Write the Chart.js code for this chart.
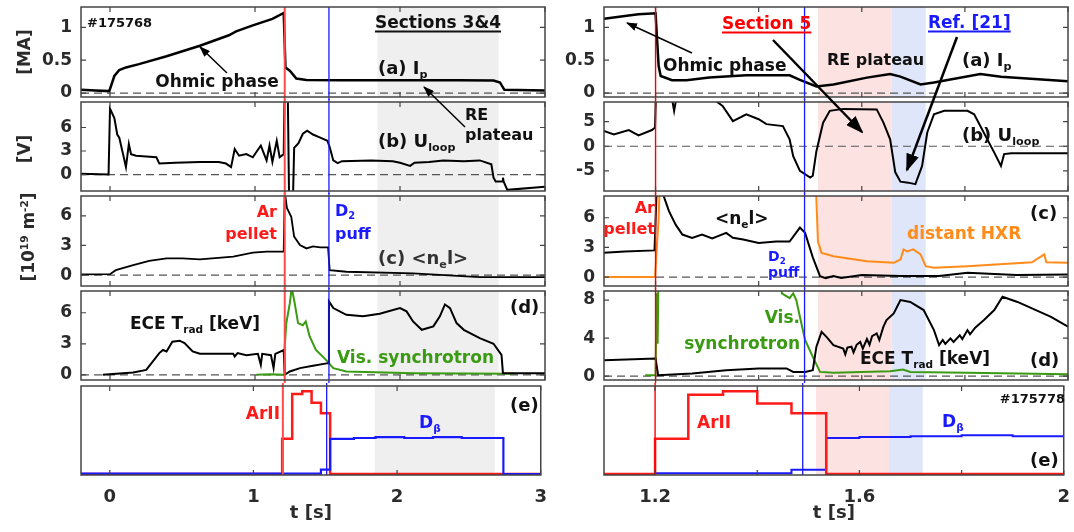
<!DOCTYPE html>
<html>
<head>
<meta charset="utf-8">
<script src="https://cdn.jsdelivr.net/npm/chart.js@4.4.1/dist/chart.umd.min.js"></script>
<style>
  body { margin: 0; width: 1074px; height: 532px; overflow: hidden; position: relative; background: #fff;
         font-family: "DejaVu Sans", sans-serif; font-weight: bold; }
  canvas { position: absolute; z-index: 1; }
  .l, .r, .c { position: absolute; z-index: 2; white-space: nowrap; line-height: 1; font-size: 17px; color: #111; }
  .l { transform: translateY(-50%); }
  .r { transform: translate(-100%, -50%); }
  .c { transform: translate(-50%, -50%); }
  .rot { transform: translate(-50%, -50%) rotate(-90deg); color: #2b2b2b; }
  .s { font-size: 0.62em; vertical-align: -0.35em; }
  .p { font-size: 0.62em; vertical-align: 0.65em; }
  .u { text-decoration: underline; text-decoration-thickness: 2px; text-underline-offset: 3px; }
  svg { position: absolute; left: 0; top: 0; z-index: 3; }
</style>
</head>
<body>

<!-- units -->
<div class="c rot" style="left:24px;top:52px">[MA]</div>
<div class="c rot" style="left:24px;top:149px">[V]</div>
<div class="c rot" style="left:28px;top:237px">[10<span class="p">19</span> m<span class="p">-2</span>]</div>

<!-- left column -->
<div class="l" style="left:87px;top:22px;font-size:13px">#175768</div>
<div class="c" style="left:217px;top:81px">Ohmic phase</div>
<div class="c u" style="left:438px;top:22px">Sections 3&amp;4</div>
<div class="l" style="left:378px;top:70px;font-size:18px">(a) I<span class="s">p</span></div>
<div class="l" style="left:465px;top:115px;font-size:16px">RE</div>
<div class="l" style="left:465px;top:135px;font-size:16px">plateau</div>
<div class="l" style="left:378px;top:143px;font-size:18px">(b) U<span class="s">loop</span></div>
<div class="r" style="left:277px;top:212px;font-size:16px;color:#ff1a1a">Ar</div>
<div class="r" style="left:277px;top:234px;font-size:16px;color:#ff1a1a">pellet</div>
<div class="l" style="left:335px;top:212px;font-size:16px;color:#1a1aff">D<span class="s">2</span></div>
<div class="l" style="left:335px;top:234px;font-size:16px;color:#1a1aff">puff</div>
<div class="l" style="left:378px;top:260px;font-size:18px;color:#333">(c) &lt;n<span class="s">e</span>l&gt;</div>
<div class="l" style="left:130px;top:325px">ECE T<span class="s">rad</span> [keV]</div>
<div class="l" style="left:510px;top:307px;font-size:18px">(d)</div>
<div class="l" style="left:337px;top:357px;color:#3a9a12">Vis. synchrotron</div>
<div class="r" style="left:280px;top:413px;color:#ff1a1a">ArII</div>
<div class="l" style="left:510px;top:405px;font-size:18px">(e)</div>
<div class="l" style="left:419px;top:424px;color:#1a1aff">D<span class="s">β</span></div>

<!-- right column -->
<div class="l" style="left:663px;top:65px">Ohmic phase</div>
<div class="l u" style="left:722px;top:23px;color:#ff0000">Section 5</div>
<div class="l" style="left:827px;top:60px;font-size:16px">RE plateau</div>
<div class="l" style="left:962px;top:62px;font-size:18px">(a) I<span class="s">p</span></div>
<div class="l u" style="left:928px;top:22px;color:#1a1aff">Ref. [21]</div>
<div class="l" style="left:962px;top:137px;font-size:18px">(b) U<span class="s">loop</span></div>
<div class="r" style="left:655px;top:208px;font-size:16px;color:#ff1a1a">Ar</div>
<div class="r" style="left:655px;top:229px;font-size:16px;color:#ff1a1a">pellet</div>
<div class="l" style="left:715px;top:220px">&lt;n<span class="s">e</span>l&gt;</div>
<div class="l" style="left:768px;top:257px;font-size:14px;color:#1a1aff">D<span class="s">2</span></div>
<div class="l" style="left:768px;top:272px;font-size:14px;color:#1a1aff">puff</div>
<div class="l" style="left:1030px;top:213px;font-size:18px">(c)</div>
<div class="l" style="left:907px;top:233px;color:#ff8c1a">distant HXR</div>
<div class="r" style="left:800px;top:317px;color:#3a9a12">Vis.</div>
<div class="r" style="left:800px;top:343px;color:#3a9a12">synchrotron</div>
<div class="l" style="left:860px;top:360px">ECE T<span class="s">rad</span> [keV]</div>
<div class="l" style="left:1030px;top:360px;font-size:18px">(d)</div>
<div class="r" style="left:1065px;top:398px;font-size:13px">#175778</div>
<div class="l" style="left:697px;top:422px;color:#ff1a1a">ArII</div>
<div class="l" style="left:942px;top:423px;color:#1a1aff">D<span class="s">β</span></div>
<div class="l" style="left:1030px;top:460px;font-size:18px">(e)</div>

<svg width="1074" height="532">
  <defs>
    <marker id="hs" markerUnits="userSpaceOnUse" markerWidth="11" markerHeight="8" refX="10" refY="4" orient="auto">
      <path d="M0,0 L11,4 L0,8 z" fill="#000"/>
    </marker>
    <marker id="hb" markerUnits="userSpaceOnUse" markerWidth="18" markerHeight="13" refX="16" refY="6.5" orient="auto">
      <path d="M0,0 L18,6.5 L0,13 z" fill="#000"/>
    </marker>
  </defs>
  <line x1="227" y1="73" x2="200" y2="47" stroke="#000" stroke-width="1.5" marker-end="url(#hs)"/>
  <line x1="465" y1="127" x2="424" y2="87" stroke="#000" stroke-width="1.5" marker-end="url(#hs)"/>
  <line x1="692" y1="53" x2="627" y2="23" stroke="#000" stroke-width="1.5" marker-end="url(#hs)"/>
  <line x1="773" y1="40" x2="862" y2="132" stroke="#000" stroke-width="2.5" marker-end="url(#hb)"/>
  <line x1="957" y1="37" x2="907" y2="170" stroke="#000" stroke-width="2.5" marker-end="url(#hb)"/>
</svg>

<script>
// ---- data: [t (s), value] pairs ----
// shot #175768 (left column)
const ipLeft = [[-0.2,0.05],[-0.1,0.04],[-0.005,0.03],[0.03,0.26],[0.064,0.35],[0.11,0.39],[0.2,0.44],[0.39,0.56],[0.62,0.72],[0.82,0.88],[0.87,0.94],[0.985,1.03],[1.12,1.13],[1.198,1.22],[1.21,0.39],[1.24,0.34],[1.285,0.22],[1.355,0.2],[1.6,0.195],[2.0,0.195],[2.4,0.195],[2.645,0.19],[2.69,0.16],[2.72,0.05],[3.0,0.04]];
const uloopLeft = [[-0.2,0.1],[-0.01,0.0],[0.0,8.4],[0.03,7.2],[0.05,5.1],[0.064,4.7],[0.09,2.6],[0.11,0.95],[0.13,3.9],[0.145,2.6],[0.18,2.4],[0.25,2.3],[0.32,2.2],[0.34,1.4],[0.45,1.5],[0.62,1.6],[0.75,1.6],[0.8,1.4],[0.835,0.95],[0.86,3.25],[0.89,2.4],[0.94,2.6],[0.985,2.2],[1.04,3.7],[1.08,1.8],[1.1,3.7],[1.12,1.6],[1.15,4.3],[1.17,2.2],[1.198,2.6],[1.205,12],[1.225,12],[1.235,-3],[1.262,-3],[1.27,3.4],[1.3,4.0],[1.33,5.2],[1.36,5.6],[1.4,5.1],[1.45,4.7],[1.5,4.3],[1.515,3.5],[1.54,1.8],[1.57,1.45],[1.6,1.7],[1.8,1.8],[1.95,1.7],[2.0,1.5],[2.07,1.1],[2.1,1.5],[2.2,1.6],[2.3,1.8],[2.44,1.7],[2.55,1.8],[2.63,1.3],[2.645,-0.4],[2.66,-0.9],[2.705,-0.9],[2.71,-0.4],[2.715,-0.9],[2.74,-1.95],[3.0,-1.55]];
const neLeft = [[-0.2,0.07],[0.0,0.1],[0.04,0.5],[0.16,1.0],[0.27,1.45],[0.39,1.7],[0.5,1.7],[0.62,1.6],[0.85,1.86],[0.985,2.27],[1.08,2.37],[1.198,2.37],[1.205,8.5],[1.22,6.8],[1.25,5.9],[1.27,3.9],[1.31,3.05],[1.355,2.7],[1.4,2.9],[1.45,2.8],[1.504,2.8],[1.515,0.5],[1.63,0.34],[2.09,0.17],[2.55,-0.2],[3.0,-0.2]];
const eceLeft = [[-0.05,0],[0.16,0.22],[0.25,0.48],[0.34,2.1],[0.365,2.4],[0.39,2.26],[0.43,3.2],[0.48,3.3],[0.514,3.07],[0.57,2.26],[0.62,2.03],[0.85,2.03],[0.86,1.77],[0.88,2.1],[0.94,1.9],[1.02,2.03],[1.04,0.97],[1.05,2.03],[1.11,1.9],[1.128,0.65],[1.14,2.03],[1.198,2.4],[1.205,0],[1.24,0.32],[1.31,0.65],[1.4,0.87],[1.504,1.13],[1.51,7.1],[1.54,6.45],[1.63,5.8],[1.745,5.65],[1.86,5.9],[2.0,6.45],[2.045,6.13],[2.09,5.16],[2.15,4.35],[2.23,4.68],[2.275,5.65],[2.31,6.8],[2.345,6.45],[2.39,5.0],[2.44,4.35],[2.55,3.55],[2.645,3.0],[2.7,1.93],[2.71,0.16],[3.0,0.16]];
const synLeft = [[1.01,0],[1.1,0.05],[1.2,0],[1.205,2.74],[1.216,5.0],[1.24,6.9],[1.25,8.06],[1.255,8.3],[1.274,6.9],[1.297,5.0],[1.33,4.8],[1.35,5.16],[1.377,3.7],[1.42,2.4],[1.49,1.45],[1.54,0.65],[1.63,0.32],[2.09,0.16],[2.78,0.1]];
const arLeft = [[-0.2,0],[1.2,0.4],[1.27,0.91],[1.34,0.94],[1.405,0.81],[1.47,0.69],[1.534,0],[3.0,0]];
const dbLeft = [[-0.2,0.005],[1.47,0.05],[1.534,0.4],[1.7,0.41],[1.85,0.42],[2.05,0.41],[2.25,0.42],[2.45,0.41],[2.74,0],[3.0,0]];

// shot #175778 (right column)
const ipRight = [[1.1,1.13],[1.148,1.18],[1.167,1.2],[1.2,1.215],[1.206,0.41],[1.21,0.26],[1.232,0.195],[1.26,0.195],[1.304,0.235],[1.376,0.27],[1.46,0.27],[1.48,0.2],[1.512,0.1],[1.545,0.13],[1.61,0.235],[1.655,0.29],[1.675,0.25],[1.714,0.13],[1.74,0.16],[1.83,0.29],[1.87,0.25],[2.0,0.18]];
const uloopRight = [[1.1,3.1],[1.119,2.4],[1.148,3.3],[1.167,2.2],[1.193,3.3],[1.199,3.8],[1.201,12],[1.228,12],[1.236,7.2],[1.244,12],[1.31,12],[1.317,9.2],[1.33,8.2],[1.35,5.1],[1.376,6.5],[1.4,5.5],[1.415,4.5],[1.447,4.1],[1.46,1.4],[1.467,-2.0],[1.48,-5.0],[1.5,-6.35],[1.505,-6.0],[1.512,-1.0],[1.525,4.8],[1.538,7.2],[1.564,7.6],[1.629,7.5],[1.642,4.8],[1.655,1.4],[1.665,-5.3],[1.675,-7.2],[1.69,-7.4],[1.704,-7.7],[1.717,-4.0],[1.727,2.8],[1.74,6.5],[1.76,7.2],[1.805,7.2],[1.818,6.5],[1.857,-1.3],[1.87,-4.0],[1.876,-1.6],[1.89,-1.42],[2.0,-1.42]];
const neRight = [[1.1,2.45],[1.14,2.6],[1.198,2.7],[1.202,8.6],[1.213,8.6],[1.226,6.67],[1.239,5.3],[1.252,4.3],[1.271,3.97],[1.29,4.3],[1.31,3.9],[1.337,4.47],[1.35,3.97],[1.37,3.8],[1.4,3.46],[1.434,3.6],[1.46,3.6],[1.48,5.0],[1.49,4.47],[1.505,2.0],[1.519,0.1],[1.53,-0.1],[1.545,0.1],[1.56,-0.1],[1.6,0.2],[1.675,0.1],[1.75,0.1],[1.805,0.43],[1.9,0.2],[2.0,0.27]];
const hxrRight = [[1.1,0],[1.199,0],[1.206,6.0],[1.21,12],[1.509,12],[1.515,3.6],[1.522,2.45],[1.545,2.1],[1.61,1.6],[1.662,1.44],[1.675,1.78],[1.681,2.8],[1.688,2.6],[1.7,2.8],[1.714,2.3],[1.724,1.1],[1.74,0.94],[1.805,1.1],[1.93,1.5],[1.954,2.3],[1.958,1.5],[2.0,1.44]];
const eceRight = [[1.1,1.68],[1.2,1.86],[1.205,0.1],[1.271,0.28],[1.337,0.63],[1.4,0.81],[1.454,0.81],[1.467,0.45],[1.49,0.45],[1.505,0.63],[1.512,3.1],[1.522,4.66],[1.532,4.1],[1.545,3.26],[1.564,2.9],[1.568,2.3],[1.572,3.0],[1.58,3.1],[1.584,2.5],[1.59,3.3],[1.597,3.6],[1.602,2.9],[1.61,3.9],[1.615,3.3],[1.62,4.2],[1.629,4.5],[1.634,3.8],[1.642,5.2],[1.648,5.9],[1.662,6.6],[1.675,8.0],[1.694,7.8],[1.72,6.95],[1.74,4.84],[1.75,3.26],[1.757,3.8],[1.762,3.4],[1.772,3.97],[1.778,3.6],[1.79,4.3],[1.795,3.9],[1.805,4.84],[1.81,4.4],[1.82,5.1],[1.837,5.9],[1.857,6.95],[1.873,8.35],[1.902,7.8],[1.967,6.24],[2.0,5.2]];
const synRight = [[1.18,0.1],[1.2,0.1],[1.202,8.7],[1.204,3.4],[1.206,12],[1.44,12],[1.445,8.7],[1.46,8.2],[1.467,8.7],[1.473,8.0],[1.48,6.24],[1.49,3.8],[1.505,2.03],[1.519,0.45],[1.545,0.35],[1.655,0.53],[1.68,0.7],[1.694,0.45],[1.805,0.35],[2.0,0.2]];
const arRight = [[1.1,0],[1.2,0.4],[1.265,0.9],[1.333,0.94],[1.4,0.8],[1.467,0.69],[1.535,0],[2.0,0]];
const dbRight = [[1.1,0],[1.2,0.01],[1.467,0.05],[1.535,0.41],[1.6,0.42],[1.7,0.43],[1.8,0.44],[1.9,0.43],[2.0,0.43]];

// time markers and highlighted windows
const leftPellet = 1.205, leftPuff = 1.51;
const rightPellet = 1.2, rightPuff = 1.489;
const greyBand = [1.845, 2.68];
const redBand = [1.515, 1.658];
const blueBand = [1.658, 1.724];

// axis ticks
const leftTimeTicks = [0, 1, 2, 3];
const rightTimeTicks = [1.2, 1.6, 2];
const rightMinorTicks = [1.4, 1.8];
const ipTicks = [0, 0.5, 1];
const voltTicksLeft = [0, 3, 6];
const voltTicksRight = [-5, 0, 5];
const densTicks = [0, 3, 6];
const eceTicksLeft = [0, 3, 6];
const eceTicksRight = [0, 4, 8];

// ---- drawing ----
const FONT = 'DejaVu Sans';
const INK = '#2b2b2b';
const YW = 60;
const ROWS = [[7, 97], [102, 191], [196, 286], [291, 380], [386, 475]];

const frame = {
  id: 'frame',
  beforeDatasetsDraw(chart, args, o) {
    const { ctx, chartArea: a, scales: { x, y } } = chart;
    ctx.save();
    o.bands.forEach(b => {
      const l = x.getPixelForValue(b[0]), r = x.getPixelForValue(b[1]);
      ctx.fillStyle = b[2];
      ctx.fillRect(l, a.top, r - l, a.bottom - a.top);
    });
    if (o.zero) {
      const y0 = y.getPixelForValue(0);
      ctx.strokeStyle = '#555';
      ctx.lineWidth = 1.2;
      ctx.setLineDash([8, 5]);
      ctx.beginPath();
      ctx.moveTo(a.left, y0);
      ctx.lineTo(a.right, y0);
      ctx.stroke();
      ctx.setLineDash([]);
    }
    ctx.restore();
  },
  afterDatasetsDraw(chart, args, o) {
    const { ctx, chartArea: a, scales: { x, y } } = chart;
    ctx.save();
    o.vlines.forEach(v => {
      const px = x.getPixelForValue(v[0]);
      ctx.strokeStyle = v[1];
      ctx.lineWidth = v[2];
      ctx.beginPath();
      ctx.moveTo(px, a.top - (o.first ? 0 : 3));
      ctx.lineTo(px, a.bottom + (o.last ? 0 : 3));
      ctx.stroke();
    });
    ctx.strokeStyle = '#444';
    ctx.lineWidth = 1.5;
    ctx.strokeRect(a.left, a.top, a.right - a.left, a.bottom - a.top);
    ctx.lineWidth = 1.2;
    ctx.beginPath();
    o.xt.forEach(t => {
      const px = x.getPixelForValue(t);
      ctx.moveTo(px, a.bottom); ctx.lineTo(px, a.bottom - 5);
      ctx.moveTo(px, a.top); ctx.lineTo(px, a.top + 5);
    });
    o.yt.forEach(v => {
      const py = y.getPixelForValue(v);
      ctx.moveTo(a.left, py); ctx.lineTo(a.left + 5, py);
      ctx.moveTo(a.right, py); ctx.lineTo(a.right - 5, py);
    });
    ctx.stroke();
    ctx.restore();
  }
};

const LEFT = {
  x0: 81, x1: 545, min: -0.2, max: 3,
  labels: leftTimeTicks, marks: leftTimeTicks,
  bands: [[greyBand[0], greyBand[1], '#efefef']],
  vlines: [[leftPellet, '#ff4a4a', 2], [leftPuff, '#1a1aff', 1.3]]
};
const RIGHT = {
  x0: 604, x1: 1068, min: 1.1, max: 2.0,
  labels: rightTimeTicks, marks: rightTimeTicks.concat(rightMinorTicks),
  bands: [[redBand[0], redBand[1], '#fde2e2'], [blueBand[0], blueBand[1], '#dfe6fa']],
  vlines: [[rightPellet, '#ff0000', 1.4], [rightPuff, '#1a1aff', 1.3]]
};

function line(d, color, width, stepped) {
  return {
    data: d.map(p => ({ x: p[0], y: p[1] })),
    borderColor: color, borderWidth: width,
    pointRadius: 0, tension: 0, fill: false,
    stepped: stepped ? 'before' : false
  };
}

function panel(col, row, yMin, yMax, yTicks, datasets) {
  const [top, bottom] = ROWS[row];
  const last = row === 4;
  const padT = 22, padB = 22, xH = 49;
  const w = YW + (col.x1 - col.x0) + 14;
  const h = padT + (bottom - top) + (last ? xH : padB);
  const cv = document.createElement('canvas');
  cv.width = w; cv.height = h;
  cv.style.width = w + 'px'; cv.style.height = h + 'px';
  cv.style.left = (col.x0 - YW) + 'px';
  cv.style.top = (top - padT) + 'px';
  document.body.appendChild(cv);

  const xScale = {
    type: 'linear', min: col.min, max: col.max, display: last
  };
  if (last) {
    Object.assign(xScale, {
      afterBuildTicks: s => { s.ticks = col.labels.map(v => ({ value: v })); },
      afterFit: s => { s.height = xH; },
      grid: { display: false, drawTicks: false },
      border: { display: false },
      ticks: { callback: v => String(v), color: INK, padding: 12, maxRotation: 0, autoSkip: false,
               font: { family: FONT, size: 18, weight: 'bold' } },
      title: { display: true, text: 't [s]', color: INK, padding: 0,
               font: { family: FONT, size: 18, weight: 'bold' } }
    });
  }

  new Chart(cv, {
    type: 'line',
    data: { datasets },
    plugins: [frame],
    options: {
      responsive: false,
      animation: false,
      layout: { padding: { left: 0, right: 14, top: padT, bottom: last ? 0 : padB } },
      plugins: {
        legend: { display: false },
        tooltip: { enabled: false },
        frame: { bands: col.bands, vlines: col.vlines, zero: !last, xt: col.marks, yt: yTicks, first: row === 0, last }
      },
      scales: {
        x: xScale,
        y: {
          type: 'linear', min: yMin, max: yMax,
          afterBuildTicks: s => { s.ticks = yTicks.map(v => ({ value: v })); },
          afterFit: s => { s.width = YW; },
          grid: { display: false, drawTicks: false },
          border: { display: false },
          ticks: { display: yTicks.length > 0, callback: v => String(v), color: INK, padding: 9,
                   font: { family: FONT, size: 17, weight: 'bold' } }
        }
      }
    }
  });
}

const BLACK = '#000', GREEN = '#3a9a12', ORANGE = '#ff8c1a', RED = '#ff1a1a', BLUE = '#1a1aff';

// left column
panel(LEFT, 0, -0.06, 1.31, ipTicks, [line(ipLeft, BLACK, 2.5)]);
panel(LEFT, 1, -2.1, 9.25, voltTicksLeft, [line(uloopLeft, BLACK, 2)]);
panel(LEFT, 2, -1.1, 8.0, densTicks, [line(neLeft, BLACK, 1.8)]);
panel(LEFT, 3, -0.5, 8.1, eceTicksLeft, [line(eceLeft, BLACK, 2), line(synLeft, GREEN, 2)]);
panel(LEFT, 4, -0.01, 1.0, [], [line(dbLeft, BLUE, 2.2, true), line(arLeft, RED, 2.5, true)]);

// right column
panel(RIGHT, 0, -0.06, 1.31, ipTicks, [line(ipRight, BLACK, 2.5)]);
panel(RIGHT, 1, -9.1, 9.0, voltTicksRight, [line(uloopRight, BLACK, 2)]);
panel(RIGHT, 2, -0.9, 8.2, densTicks, [line(neRight, BLACK, 2), line(hxrRight, ORANGE, 2)]);
panel(RIGHT, 3, -0.4, 8.95, eceTicksRight, [line(eceRight, BLACK, 2), line(synRight, GREEN, 2)]);
panel(RIGHT, 4, -0.01, 1.0, [], [line(arRight, RED, 2.5, true), line(dbRight, BLUE, 2, true)]);
</script>
</body>
</html>
